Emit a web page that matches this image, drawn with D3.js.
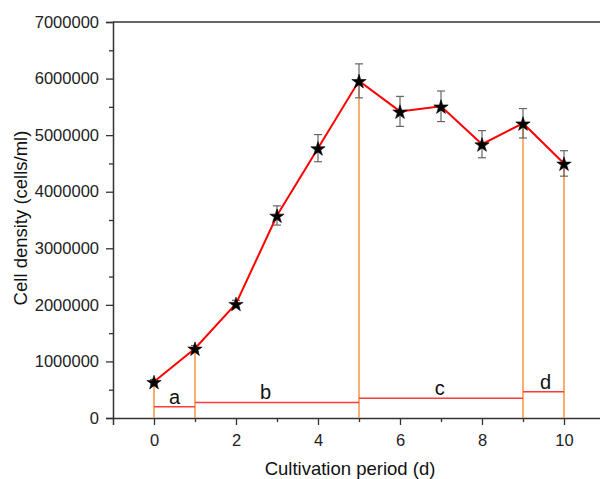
<!DOCTYPE html>
<html>
<head>
<meta charset="utf-8">
<script src="https://cdn.jsdelivr.net/npm/d3@7"></script>
<style>
  html, body { margin: 0; padding: 0; background: #fff; }
  svg { display: block; }
</style>
</head>
<body>
<div id="chart"></div>
<script>
(function () {
  'use strict';

  /* ---------- Data ---------- */
  const days    = [0, 1, 2, 3, 4, 5, 6, 7, 8, 9, 10];
  const density = [640000, 1230000, 2020000, 3580000, 4770000, 5960000, 5420000, 5510000, 4840000, 5210000, 4500000];
  const errs    = [40000, 50000, 60000, 170000, 240000, 300000, 265000, 270000, 240000, 260000, 225000];

  // growth phases: start day, end day, bar level, label
  const phaseStart = [0, 1, 5, 9];
  const phaseEnd   = [1, 5, 9, 10];
  const phaseLevel = [200000, 275000, 350000, 465000];
  const phaseLabel = ['a', 'b', 'c', 'd'];
  const phaseLabelX = [0.5, 2.72, 6.97, 9.55];

  // days where a drop line marks a phase boundary
  const boundaryDays = [0, 1, 5, 9, 10];

  const xTicks = [0, 2, 4, 6, 8, 10];
  const yTicks = d3.range(0, 7000001, 1000000);

  /* ---------- Size ---------- */
  const W = 600, H = 479;
  const svg = d3.select('#chart').append('svg')
    .attr('width', W).attr('height', H);

  const x = d3.scaleLinear().domain([-1, 11]).range([113, 605]);
  const y = d3.scaleLinear().domain([0, 7000000]).range([418, 22]);

  const font = 'Arial, "Liberation Sans", sans-serif';
  const axisColor = '#333';

  /* ---------- Axes ---------- */
  svg.append('g')
    .attr('transform', `translate(0,${y(0)})`)
    .call(d3.axisBottom(x).tickValues(xTicks).tickSize(7).tickPadding(9).tickFormat(d3.format('d')));
  svg.append('g')
    .attr('transform', `translate(0,${y(0)})`)
    .call(d3.axisBottom(x).tickValues([1, 3, 5, 7, 9]).tickSize(4).tickFormat(''))
    .call(g => g.select('.domain').remove());

  svg.append('g')
    .attr('transform', `translate(${x(-1)},0)`)
    .call(d3.axisLeft(y).tickValues(yTicks).tickSize(7).tickPadding(7).tickFormat(d3.format('d')));
  svg.append('g')
    .attr('transform', `translate(${x(-1)},0)`)
    .call(d3.axisLeft(y).tickValues(d3.range(500000, 7000000, 1000000)).tickSize(4).tickFormat(''))
    .call(g => g.select('.domain').remove());

  svg.selectAll('.domain').attr('stroke', axisColor).attr('stroke-width', 1.5);
  svg.selectAll('.tick line').attr('stroke', axisColor).attr('stroke-width', 1.3);
  svg.selectAll('.tick text')
    .attr('fill', '#222').attr('font-size', '16.5px').attr('font-family', font);

  // top frame
  svg.append('line')
    .attr('x1', x(-1)).attr('x2', W)
    .attr('y1', y(7000000)).attr('y2', y(7000000))
    .attr('stroke', axisColor).attr('stroke-width', 1.5);

  /* ---------- Axis titles ---------- */
  svg.append('text')
    .attr('x', 350).attr('y', 475)
    .attr('text-anchor', 'middle')
    .attr('font-size', '18.5px').attr('font-family', font).attr('fill', '#111')
    .text('Cultivation period (d)');

  svg.append('text')
    .attr('transform', 'translate(27,218) rotate(-90)')
    .attr('text-anchor', 'middle')
    .attr('font-size', '18.5px').attr('font-family', font).attr('fill', '#111')
    .text('Cell density (cells/ml)');

  /* ---------- Phase drop lines ---------- */
  svg.append('g').selectAll('line')
    .data(boundaryDays)
    .join('line')
    .attr('x1', d => x(d)).attr('x2', d => x(d))
    .attr('y1', d => y(density[days.indexOf(d)]))
    .attr('y2', y(0))
    .attr('stroke', '#f79a4c').attr('stroke-width', 1.6);

  /* ---------- Phase bars + labels ---------- */
  svg.append('g').selectAll('line')
    .data(phaseLevel)
    .join('line')
    .attr('x1', (d, i) => x(phaseStart[i]))
    .attr('x2', (d, i) => x(phaseEnd[i]))
    .attr('y1', d => y(d)).attr('y2', d => y(d))
    .attr('stroke', '#ff3b3b').attr('stroke-width', 1.6);

  svg.append('g').selectAll('text')
    .data(phaseLabel)
    .join('text')
    .attr('x', (d, i) => x(phaseLabelX[i]))
    .attr('y', (d, i) => y(phaseLevel[i]) - 3)
    .attr('text-anchor', 'middle')
    .attr('font-size', '20px').attr('font-family', font).attr('fill', '#111')
    .text(d => d);

  /* ---------- Error bars ---------- */
  const eb = svg.append('g').attr('stroke', '#666').attr('stroke-width', 1.2);
  eb.selectAll('line.v')
    .data(days)
    .join('line').attr('class', 'v')
    .attr('x1', d => x(d)).attr('x2', d => x(d))
    .attr('y1', (d, i) => y(density[i] + errs[i]))
    .attr('y2', (d, i) => y(density[i] - errs[i]));
  [1, -1].forEach(s => {
    eb.selectAll('line.c' + (s > 0 ? 'u' : 'd'))
      .data(days)
      .join('line').attr('class', 'c' + (s > 0 ? 'u' : 'd'))
      .attr('x1', d => x(d) - 4).attr('x2', d => x(d) + 4)
      .attr('y1', (d, i) => y(density[i] + s * errs[i]))
      .attr('y2', (d, i) => y(density[i] + s * errs[i]));
  });

  /* ---------- Growth line ---------- */
  const line = d3.line()
    .x((d, i) => x(days[i]))
    .y(d => y(d));

  svg.append('path')
    .datum(density)
    .attr('d', line)
    .attr('fill', 'none')
    .attr('stroke', '#ff0000').attr('stroke-width', 2);

  /* ---------- Star markers ---------- */
  svg.append('g').selectAll('path')
    .data(density)
    .join('path')
    .attr('transform', (d, i) => `translate(${x(days[i])},${y(d) + 1})`)
    .attr('d', d3.symbol().type(d3.symbolStar).size(64))
    .attr('fill', '#000')
    .attr('stroke', '#000').attr('stroke-width', 0.6);

})();
</script>
</body>
</html>
